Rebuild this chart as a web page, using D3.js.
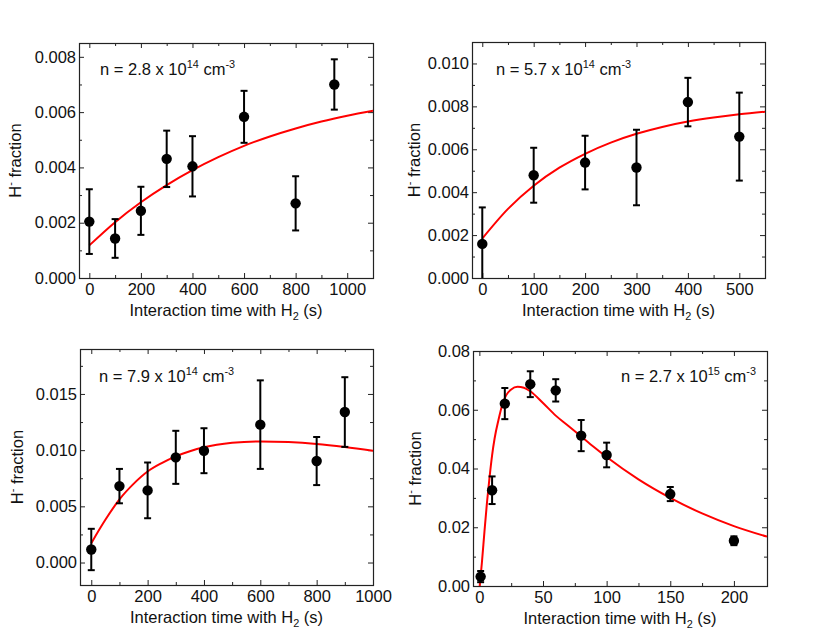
<!DOCTYPE html>
<html lang="en">
<head>
    <meta charset="UTF-8">
    <title>H- fraction vs interaction time</title>
    <style>
        body { margin: 0; background: #fff; }
        svg text { font-family: "Liberation Sans", Arial, Helvetica, sans-serif; fill: #111; }
    </style>
</head>
<body>

    <script src="https://d3js.org/d3.v7.min.js"></script>
    <script>

        // ---- data ----

        // n = 2.8 x 10^14 cm^-3
        var p1Time = [0, 100, 200, 300, 400, 600, 800, 950];
        var p1Frac = [0.00204, 0.00143, 0.00243, 0.00431, 0.00404, 0.00583, 0.00270, 0.00700];
        var p1Err  = [0.00117, 0.00070, 0.00087, 0.00102, 0.00109, 0.00094, 0.00098, 0.00091];
        var p1FitTime = [0, 100, 200, 300, 400, 500, 600, 700, 800, 900, 1000, 1100];
        var p1FitFrac = [0.00118, 0.00202, 0.00274, 0.00336, 0.00390, 0.00437, 0.00478, 0.00512, 0.00541, 0.00566, 0.00587, 0.00605];
        var p1XTicks = [0, 200, 400, 600, 800, 1000];
        var p1XMinor = [100, 300, 500, 700, 900];
        var p1YTicks = [0, 0.002, 0.004, 0.006, 0.008];
        var p1YMinor = [0.001, 0.003, 0.005, 0.007];

        // n = 5.7 x 10^14 cm^-3
        var p2Time = [0, 100, 200, 300, 400, 500];
        var p2Frac = [0.00159, 0.00479, 0.00538, 0.00515, 0.00820, 0.00659];
        var p2Err  = [0.00170, 0.00128, 0.00125, 0.00176, 0.00113, 0.00205];
        var p2FitTime = [0, 50, 100, 150, 200, 250, 300, 350, 400, 450, 500, 550];
        var p2FitFrac = [0.00184, 0.00322, 0.00430, 0.00514, 0.00579, 0.00631, 0.00672, 0.00704, 0.00729, 0.00748, 0.00763, 0.00775];
        var p2XTicks = [0, 100, 200, 300, 400, 500];
        var p2XMinor = [50, 150, 250, 350, 450];
        var p2YTicks = [0, 0.002, 0.004, 0.006, 0.008, 0.010];
        var p2YMinor = [0.001, 0.003, 0.005, 0.007, 0.009];

        // n = 7.9 x 10^14 cm^-3
        var p3Time = [0, 100, 200, 300, 400, 600, 800, 900];
        var p3Frac = [0.00116, 0.00680, 0.00642, 0.00936, 0.00995, 0.01227, 0.00903, 0.01339];
        var p3Err  = [0.00184, 0.00153, 0.00248, 0.00236, 0.00200, 0.00394, 0.00214, 0.00310];
        var p3FitTime = [0, 50, 100, 150, 200, 250, 300, 350, 400, 500, 600, 700, 800, 900, 1000];
        var p3FitFrac = [0.00172, 0.00380, 0.00562, 0.00700, 0.00810, 0.00885, 0.00945, 0.00990, 0.01025, 0.01065, 0.01078, 0.01072, 0.01055, 0.01028, 0.00995];
        var p3XTicks = [0, 200, 400, 600, 800, 1000];
        var p3XMinor = [100, 300, 500, 700, 900];
        var p3YTicks = [0, 0.005, 0.010, 0.015];
        var p3YMinor = [0.0025, 0.0075, 0.0125, 0.0175];

        // n = 2.7 x 10^15 cm^-3
        var p4Time = [1, 10, 20, 40, 60, 80, 100, 150, 200];
        var p4Frac = [0.0032, 0.0326, 0.0621, 0.0687, 0.0666, 0.0512, 0.0446, 0.0313, 0.0154];
        var p4Err  = [0.0019, 0.0047, 0.0053, 0.0044, 0.0038, 0.0053, 0.0042, 0.0024, 0.0015];
        var p4FitTime = [0, 2, 4, 6, 8, 10, 12, 15, 18, 21, 25, 30, 35, 40, 50, 60, 70, 80, 90, 100, 125, 150, 175, 200, 226];
        var p4FitFrac = [-0.0012, 0.0080, 0.0185, 0.0285, 0.0370, 0.0445, 0.0503, 0.0565, 0.0617, 0.0649, 0.0669, 0.0678, 0.0675, 0.0663, 0.0623, 0.0580, 0.0545, 0.0509, 0.0473, 0.0439, 0.0363, 0.0300, 0.0247, 0.0204, 0.0168];
        var p4XTicks = [0, 50, 100, 150, 200];
        var p4XMinor = [25, 75, 125, 175];
        var p4YTicks = [0, 0.02, 0.04, 0.06, 0.08];
        var p4YMinor = [0.01, 0.03, 0.05, 0.07];

        // ---- layout ----
        var width = 830, height = 644;
        var fs = 16.5;  // text size used throughout

        var panels = [
            { id: 1, time: p1Time, frac: p1Frac, err: p1Err, fitTime: p1FitTime, fitFrac: p1FitFrac,
              xTicks: p1XTicks, xMinor: p1XMinor, yTicks: p1YTicks, yMinor: p1YMinor,
              left: 79, right: 373, top: 43, bottom: 278, xDomain: [-40, 1100], yDomain: [0, 0.0085],
              yFmt: ".3f", ylabX: 21, note: ["2.8", "14"], noteX: 100, noteY: 75, noteAnchor: "start" },
            { id: 2, time: p2Time, frac: p2Frac, err: p2Err, fitTime: p2FitTime, fitFrac: p2FitFrac,
              xTicks: p2XTicks, xMinor: p2XMinor, yTicks: p2YTicks, yMinor: p2YMinor,
              left: 472, right: 765, top: 42, bottom: 278, xDomain: [-20, 550], yDomain: [0, 0.011],
              yFmt: ".3f", ylabX: 420, note: ["5.7", "14"], noteX: 496, noteY: 75, noteAnchor: "start" },
            { id: 3, time: p3Time, frac: p3Frac, err: p3Err, fitTime: p3FitTime, fitFrac: p3FitFrac,
              xTicks: p3XTicks, xMinor: p3XMinor, yTicks: p3YTicks, yMinor: p3YMinor,
              left: 80, right: 373, top: 349, bottom: 585, xDomain: [-40, 1000], yDomain: [-0.002, 0.019],
              yFmt: ".3f", ylabX: 23, note: ["7.9", "14"], noteX: 99, noteY: 382, noteAnchor: "start" },
            { id: 4, time: p4Time, frac: p4Frac, err: p4Err, fitTime: p4FitTime, fitFrac: p4FitFrac,
              xTicks: p4XTicks, xMinor: p4XMinor, yTicks: p4YTicks, yMinor: p4YMinor,
              left: 473, right: 767, top: 351, bottom: 586, xDomain: [-5, 226], yDomain: [0, 0.08],
              yFmt: ".2f", ylabX: 421, note: ["2.7", "15"], noteX: 756, noteY: 382, noteAnchor: "end" }
        ];

        var svg = d3.select("body").append("svg")
            .attr("width", width)
            .attr("height", height);

        svg.append("rect").attr("width", width).attr("height", height).attr("fill", "#fff");

        // appends normal / sup / sub pieces to a text element
        function richText(text, parts, size) {
            var shift = 0;
            parts.forEach(function(p) {
                var t = text.append("tspan").text(p[0]);
                var target = p[1] === "sup" ? -7 : p[1] === "sub" ? 4 : 0;
                t.attr("dy", target - shift);
                if (p[1]) t.attr("font-size", size * 0.66);
                shift = target;
            });
        }

        function styleAxis(g) {
            g.select(".domain").remove();
            g.selectAll(".tick line").attr("stroke", "#222").attr("stroke-width", 1);
            g.attr("font-size", fs).attr("font-family", null);
        }

        function drawPanel(p) {
            var x = d3.scaleLinear().domain(p.xDomain).range([p.left, p.right]);
            var y = d3.scaleLinear().domain(p.yDomain).range([p.bottom, p.top]);
            var g = svg.append("g");

            var clipId = "clip" + p.id;
            svg.append("clipPath").attr("id", clipId).append("rect")
                .attr("x", p.left).attr("y", p.top)
                .attr("width", p.right - p.left).attr("height", p.bottom - p.top);

            // axes, ticks pointing inward on all four sides
            var fmtX = d3.format("d"), fmtY = d3.format(p.yFmt);
            g.append("g").attr("transform", "translate(0," + p.bottom + ")")
                .call(d3.axisBottom(x).tickValues(p.xTicks).tickSize(-5).tickPadding(5).tickFormat(fmtX))
                .call(styleAxis);
            g.append("g").attr("transform", "translate(0," + p.bottom + ")")
                .call(d3.axisBottom(x).tickValues(p.xMinor).tickSize(-3).tickFormat(""))
                .call(styleAxis);
            g.append("g").attr("transform", "translate(0," + p.top + ")")
                .call(d3.axisTop(x).tickValues(p.xTicks).tickSize(-5).tickFormat(""))
                .call(styleAxis);
            g.append("g").attr("transform", "translate(0," + p.top + ")")
                .call(d3.axisTop(x).tickValues(p.xMinor).tickSize(-3).tickFormat(""))
                .call(styleAxis);
            g.append("g").attr("transform", "translate(" + p.left + ",0)")
                .call(d3.axisLeft(y).tickValues(p.yTicks).tickSize(-5).tickPadding(3).tickFormat(fmtY))
                .call(styleAxis);
            g.append("g").attr("transform", "translate(" + p.left + ",0)")
                .call(d3.axisLeft(y).tickValues(p.yMinor).tickSize(-3).tickFormat(""))
                .call(styleAxis);
            g.append("g").attr("transform", "translate(" + p.right + ",0)")
                .call(d3.axisRight(y).tickValues(p.yTicks).tickSize(-5).tickFormat(""))
                .call(styleAxis);
            g.append("g").attr("transform", "translate(" + p.right + ",0)")
                .call(d3.axisRight(y).tickValues(p.yMinor).tickSize(-3).tickFormat(""))
                .call(styleAxis);

            // frame
            g.append("rect")
                .attr("x", p.left + 0.5).attr("y", p.top + 0.5)
                .attr("width", p.right - p.left).attr("height", p.bottom - p.top)
                .attr("fill", "none").attr("stroke", "#222").attr("stroke-width", 1.2);

            // fit curve
            var line = d3.line()
                .x(function(d) { return x(d[0]); })
                .y(function(d) { return y(d[1]); })
                .curve(d3.curveMonotoneX);
            g.append("path")
                .datum(d3.zip(p.fitTime, p.fitFrac))
                .attr("clip-path", "url(#" + clipId + ")")
                .attr("d", line)
                .attr("fill", "none")
                .attr("stroke", "#f00")
                .attr("stroke-width", 2);

            // error bars and points
            var pts = d3.zip(p.time, p.frac, p.err);
            var bars = g.append("g").attr("clip-path", "url(#" + clipId + ")")
                .selectAll("g").data(pts).join("g")
                .attr("stroke", "#000").attr("stroke-width", 2);
            bars.append("line")
                .attr("x1", function(d) { return x(d[0]); }).attr("x2", function(d) { return x(d[0]); })
                .attr("y1", function(d) { return y(d[1] - d[2]); }).attr("y2", function(d) { return y(d[1] + d[2]); });
            bars.append("line")
                .attr("x1", function(d) { return x(d[0]) - 3.5; }).attr("x2", function(d) { return x(d[0]) + 3.5; })
                .attr("y1", function(d) { return y(d[1] + d[2]); }).attr("y2", function(d) { return y(d[1] + d[2]); });
            bars.append("line")
                .attr("x1", function(d) { return x(d[0]) - 3.5; }).attr("x2", function(d) { return x(d[0]) + 3.5; })
                .attr("y1", function(d) { return y(d[1] - d[2]); }).attr("y2", function(d) { return y(d[1] - d[2]); });

            g.append("g").selectAll("circle").data(pts).join("circle")
                .attr("cx", function(d) { return x(d[0]); })
                .attr("cy", function(d) { return y(d[1]); })
                .attr("r", 5.2)
                .attr("fill", "#000");

            // axis titles
            var xt = g.append("text")
                .attr("x", (p.left + p.right) / 2).attr("y", p.bottom + 38)
                .attr("text-anchor", "middle").attr("font-size", fs);
            richText(xt, [["Interaction time with H"], ["2", "sub"], [" (s)"]], fs);

            var yt = g.append("text")
                .attr("transform", "translate(" + p.ylabX + "," + ((p.top + p.bottom) / 2) + ") rotate(-90)")
                .attr("text-anchor", "middle").attr("font-size", fs);
            richText(yt, [["H"], ["-", "sup"], [" fraction"]], fs);

            // density note
            var nt = g.append("text")
                .attr("x", p.noteX).attr("y", p.noteY)
                .attr("text-anchor", p.noteAnchor).attr("font-size", fs);
            richText(nt, [["n = " + p.note[0] + " x 10"], [p.note[1], "sup"], [" cm"], ["-3", "sup"]], fs);
        }

        panels.forEach(drawPanel);

    </script>
</body>
</html>
